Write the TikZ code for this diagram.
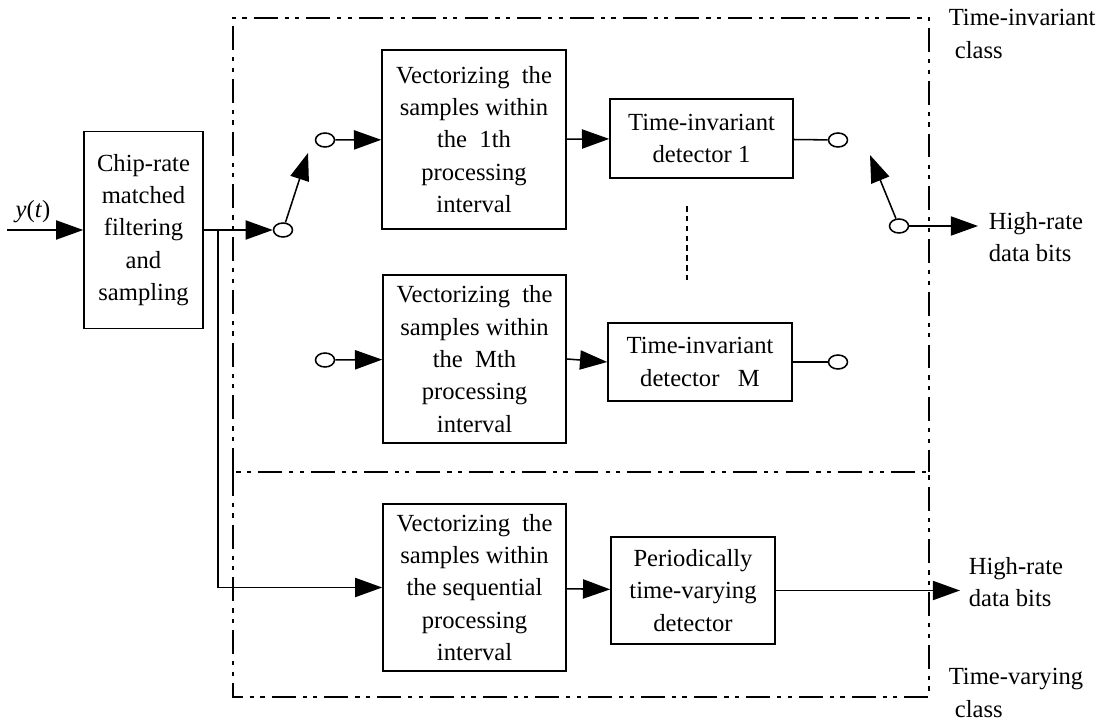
\documentclass[tikz,border=0pt]{standalone}
\usepackage{fontspec}
\setmainfont{Liberation Serif}
\usetikzlibrary{arrows.meta,shapes.geometric}
\begin{document}
\begin{tikzpicture}[x=0.025cm,y=-0.025cm,line width=1.1pt,
  every node/.style={font=\fontsize{17.5}{23}\selectfont},
  blkbox/.style={draw,align=center,inner sep=0pt},
  sw/.style={draw,ellipse,inner sep=0pt,minimum width=0.475cm,minimum height=0.35cm},
  lbl/.style={align=left,anchor=west,inner sep=0pt},
  fl/.style={-{Triangle[length=6.8mm,width=4.8mm]}},
  dashdotdot/.style={line width=1pt,dash pattern=on 17pt off 5pt on 3pt off 4.5pt on 3pt off 5pt}]
\useasboundingbox (0,0) rectangle (1104,721);
\draw[dashdotdot] (233,472) |- (929,18) -- (929,472);
\draw[dashdotdot] (233,472) rectangle (929,697);
\node[blkbox,minimum width=2.975cm,minimum height=4.925cm] (chip) at (143.5,230) {Chip-rate\\matched\\filtering\\and\\sampling};
\node[blkbox,minimum width=4.6cm,minimum height=4.475cm] (vec1) at (474,139.5) {Vectorizing~~the\\samples within\\the~~1th\\processing\\interval};
\node[blkbox,minimum width=4.575cm,minimum height=1.975cm] (det1) at (701.5,138.5) {Time-invariant\\detector 1};
\node[blkbox,minimum width=4.575cm,minimum height=4.2cm] (vecM) at (474.5,359) {Vectorizing~~the\\samples within\\the~~Mth\\processing\\interval};
\node[blkbox,minimum width=4.6cm,minimum height=1.95cm] (detM) at (700,362) {Time-invariant\\detector~~~M};
\node[blkbox,minimum width=4.575cm,minimum height=4.175cm] (vecS) at (474.5,587.5) {Vectorizing~~the\\samples within\\the sequential\\processing\\interval};
\node[blkbox,minimum width=4.1cm,minimum height=2.675cm] (tvdet) at (693,590.5) {Periodically\\time-varying\\detector};
\node[sw] (swin) at (283,230) {};
\node[sw] (in1) at (325,140) {};
\node[sw] (inM) at (325,360) {};
\node[sw] (out1) at (838,140) {};
\node[sw] (outM) at (838,362) {};
\node[sw] (swout) at (899,226) {};
\coordinate (src) at (7,230);
\coordinate (split) at (218,230);
\coordinate (swintip) at (308,153);
\coordinate (swouttip) at (870,155);
\coordinate (hr1end) at (978,226);
\coordinate (hr2end) at (960,590.5);
\node (ylab) at (33,212) {\textit{y}(\textit{t})};
\node[lbl] (ticlass) at (948,34) {Time-invariant\\~class};
\node[lbl] (hr1) at (988,237) {High-rate\\data bits};
\node[lbl] (hr2) at (968,582) {High-rate\\data bits};
\node[lbl] (tvclass) at (948,693) {Time-varying\\~class};
\draw[dash pattern=on 4pt off 3pt] (687,206) -- (687,280);
\draw[fl] (src) -- (chip);
\draw[fl] (chip) -- (swin);
\draw[fl] (split) |- (vecS.west);
\draw[fl] (swin) -- (swintip);
\draw[fl] (in1) -- (vec1);
\draw[fl] (vec1) -- (det1);
\draw[fl] (inM) -- (vecM);
\draw[fl] (vecM.east) -- (detM.west);
\draw (det1) -- (out1);
\draw (detM) -- (outM);
\draw[fl] (swout) -- (swouttip);
\draw[fl] (swout) -- (hr1end);
\draw[fl] (vecS) -- (tvdet);
\draw[fl] (tvdet) -- (hr2end);
\end{tikzpicture}
\end{document}
